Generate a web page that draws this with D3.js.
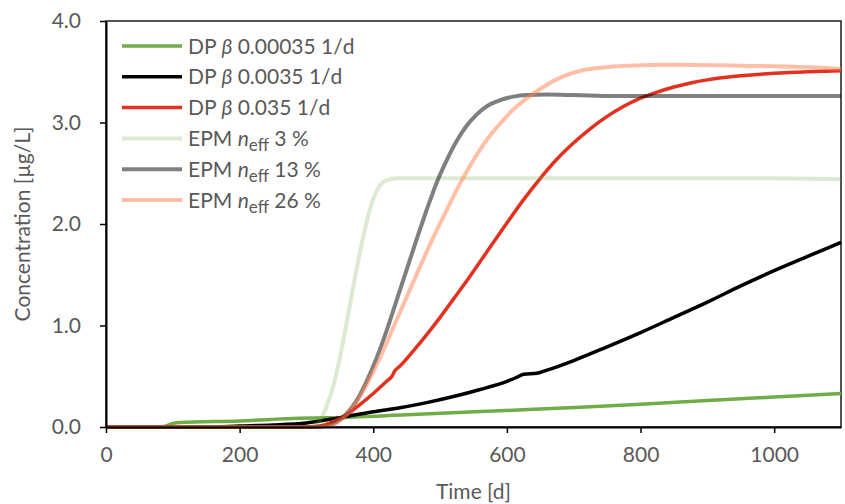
<!DOCTYPE html>
<html>
<head>
<meta charset="utf-8">
<script src="https://cdn.jsdelivr.net/npm/d3@7"></script>
<style>
  html, body { margin: 0; padding: 0; background: #fff; }
  svg { display: block; }
  text { font-family: Lato, "Open Sans", sans-serif; fill: #595959; }
</style>
</head>
<body>
<svg id="chart" width="845" height="504"></svg>
<script>
// Time axis [d] and concentration [µg/L]
const xTicks = [0, 200, 400, 600, 800, 1000];
const yTicks = [0, 1, 2, 3, 4];

// Dual-porosity model, β = 0.00035 1/d
const dpBeta00035 = [
  [0, 0], [80, 0], [90, 0.01], [100, 0.035], [110, 0.045], [200, 0.06], [290, 0.085],
  [330, 0.09], [450, 0.12], [590, 0.16], [710, 0.195], [800, 0.225], [900, 0.26],
  [1000, 0.295], [1100, 0.33]
];
// Dual-porosity model, β = 0.0035 1/d
const dpBeta0035 = [
  [0, 0], [150, 0], [200, 0.01], [250, 0.02], [300, 0.04], [340, 0.08], [365, 0.11],
  [400, 0.15], [440, 0.19], [480, 0.24], [520, 0.30], [560, 0.37], [600, 0.45],
  [615, 0.49], [625, 0.52], [645, 0.53], [660, 0.56], [700, 0.655], [750, 0.79],
  [800, 0.93], [850, 1.08], [900, 1.23], [950, 1.39], [1000, 1.54], [1050, 1.68],
  [1100, 1.82]
];
// Dual-porosity model, β = 0.035 1/d
const dpBeta035 = [
  [0, 0], [300, 0], [320, 0.01], [340, 0.05], [360, 0.12], [380, 0.22], [400, 0.33],
  [420, 0.45], [428, 0.5], [432, 0.55], [440, 0.6], [460, 0.75], [480, 0.91],
  [500, 1.08], [520, 1.26], [540, 1.44], [560, 1.63], [580, 1.82], [600, 2.01],
  [625, 2.24], [650, 2.45], [675, 2.64], [700, 2.8], [725, 2.94], [750, 3.06],
  [775, 3.16], [800, 3.24], [825, 3.3], [850, 3.35], [875, 3.39], [900, 3.42],
  [950, 3.46], [1000, 3.485], [1050, 3.5], [1100, 3.51]
];
// Equivalent porous medium, n_eff = 3 %
const epmNeff3 = [
  [0, 0], [300, 0], [310, 0.01], [320, 0.06], [330, 0.2], [340, 0.4], [350, 0.68],
  [360, 1.02], [370, 1.38], [380, 1.72], [390, 2.02], [400, 2.25], [410, 2.38],
  [420, 2.43], [435, 2.45], [600, 2.45], [800, 2.45], [1000, 2.45], [1100, 2.44]
];
// Equivalent porous medium, n_eff = 13 %
const epmNeff13 = [
  [0, 0], [310, 0], [330, 0.01], [345, 0.05], [360, 0.13], [375, 0.26], [390, 0.45],
  [405, 0.68], [420, 0.95], [435, 1.25], [450, 1.55], [465, 1.85], [480, 2.14],
  [495, 2.41], [510, 2.63], [525, 2.82], [540, 2.97], [555, 3.08], [570, 3.16],
  [590, 3.22], [610, 3.255], [630, 3.27], [660, 3.275], [700, 3.27], [760, 3.26],
  [1100, 3.26]
];
// Equivalent porous medium, n_eff = 26 %
const epmNeff26 = [
  [0, 0], [310, 0], [330, 0.01], [345, 0.04], [360, 0.12], [380, 0.3], [395, 0.48],
  [410, 0.68], [430, 0.98], [450, 1.28], [470, 1.58], [490, 1.87], [510, 2.14],
  [530, 2.4], [550, 2.63], [570, 2.83], [590, 2.99], [610, 3.13], [630, 3.24],
  [650, 3.33], [670, 3.41], [690, 3.47], [710, 3.51], [740, 3.54], [780, 3.56],
  [850, 3.57], [950, 3.56], [1030, 3.55], [1100, 3.53]
];

const series = [
  { data: dpBeta00035, color: "#70AD47", opacity: 1, width: 3.5,
    label: [["DP ", ""], ["β", "i"], [" 0.00035 1/d", ""]] },
  { data: dpBeta0035, color: "#000000", opacity: 1, width: 3.5,
    label: [["DP ", ""], ["β", "i"], [" 0.0035 1/d", ""]] },
  { data: dpBeta035, color: "#E2311F", opacity: 1, width: 3.5,
    label: [["DP ", ""], ["β", "i"], [" 0.035 1/d", ""]] },
  { data: epmNeff3, color: "#70AD47", opacity: 0.25, width: 4,
    label: [["EPM ", ""], ["n", "i"], ["eff", "sub"], [" 3 %", ""]] },
  { data: epmNeff13, color: "#000000", opacity: 0.5, width: 4,
    label: [["EPM ", ""], ["n", "i"], ["eff", "sub"], [" 13 %", ""]] },
  { data: epmNeff26, color: "#FF7F50", opacity: 0.5, width: 4,
    label: [["EPM ", ""], ["n", "i"], ["eff", "sub"], [" 26 %", ""]] }
];

const svg = d3.select("#chart");
const plot = { left: 106, right: 841, top: 21, bottom: 427 };

const x = d3.scaleLinear().domain([0, 1100]).range([plot.left, plot.right]);
const y = d3.scaleLinear().domain([0, 4]).range([plot.bottom, plot.top]);

// Frame around the plot area
svg.append("rect")
  .attr("x", plot.left).attr("y", plot.top)
  .attr("width", plot.right - plot.left).attr("height", plot.bottom - plot.top)
  .attr("fill", "none").attr("stroke", "#1a1a1a").attr("stroke-width", 1.5);

// Data lines
const line = d3.line()
  .x(d => x(d[0])).y(d => y(d[1]))
  .curve(d3.curveMonotoneX);

svg.append("g").selectAll("path")
  .data(series)
  .join("path")
  .attr("d", d => line(d.data))
  .attr("fill", "none")
  .attr("stroke", d => d.color)
  .attr("stroke-opacity", d => d.opacity)
  .attr("stroke-width", d => d.width)
  .attr("stroke-linejoin", "round");

// Axes
const xAxis = svg.append("g")
  .attr("transform", `translate(0,${plot.bottom})`)
  .call(d3.axisBottom(x).tickValues(xTicks).tickSize(6).tickSizeOuter(0).tickPadding(14)
    .tickFormat(d3.format("d")));
const yAxis = svg.append("g")
  .attr("transform", `translate(${plot.left},0)`)
  .call(d3.axisLeft(y).tickValues(yTicks).tickSize(6).tickSizeOuter(0).tickPadding(19)
    .tickFormat(d3.format(".1f")));

[xAxis, yAxis].forEach(g => {
  g.select(".domain").attr("stroke", "#000").attr("stroke-width", 2);
  g.selectAll(".tick line").attr("stroke", "#000").attr("stroke-width", 1.5);
  g.selectAll(".tick text")
    .attr("font-family", "Lato, sans-serif")
    .attr("font-size", 21).attr("fill", "#595959");
});

// Axis titles
svg.append("text")
  .attr("x", (plot.left + plot.right) / 2).attr("y", 499)
  .attr("text-anchor", "middle").attr("font-size", 21)
  .text("Time [d]");
svg.append("text")
  .attr("transform", `translate(30,${(plot.top + plot.bottom) / 2}) rotate(-90)`)
  .attr("text-anchor", "middle").attr("font-size", 21)
  .text("Concentration [µg/L]");

// Legend
const legend = svg.append("g");
const rowY = i => 46 + i * 30.8;
series.forEach((s, i) => {
  legend.append("line")
    .attr("x1", 122).attr("x2", 182)
    .attr("y1", rowY(i)).attr("y2", rowY(i))
    .attr("stroke", s.color).attr("stroke-opacity", s.opacity)
    .attr("stroke-width", s.width);
  const t = legend.append("text")
    .attr("x", 188).attr("y", rowY(i) + 7.5)
    .attr("font-size", 21);
  s.label.forEach(([txt, kind], k) => {
    const sp = t.append("tspan").text(txt);
    if (kind === "i") sp.attr("font-style", "italic");
    if (kind === "sub") sp.attr("font-size", 17).attr("dy", 5);
    if (k > 0 && s.label[k - 1][1] === "sub") sp.attr("dy", -5);
  });
});
</script>
</body>
</html>
